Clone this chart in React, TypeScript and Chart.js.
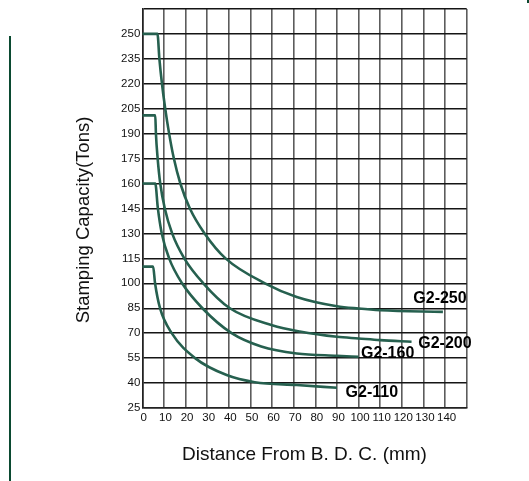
import React, { useEffect, useRef } from "react";
import { Chart, registerables } from "chart.js";

Chart.register(...registerables);

const seriesNames = ["G2-250", "G2-200", "G2-160", "G2-110"];

const g250X = [0, 7, 7.9, 9.1, 10.6, 12.4, 14.6, 17.6, 22, 28.8, 38.5, 56.7, 71.4, 90, 100, 110, 139];
const g250Y = [250, 250, 235, 220, 205, 190, 175, 160, 145, 130, 115, 100, 91.8, 86.2, 84.8, 83.8, 82.8];

const g200X = [0, 6, 6.3, 7.1, 8.3, 10.4, 13.8, 19.4, 28.2, 40.5, 60, 72.8, 90, 100, 110, 124.5];
const g200Y = [201, 201, 190, 175, 160, 145, 130, 115, 100, 85, 74.8, 71, 67.8, 66.8, 65.8, 64.8];

const g160X = [0, 6, 7.2, 9.0, 12.4, 18.4, 27.8, 41.3, 55, 71.4, 90, 100];
const g160Y = [160, 160, 145, 130, 115, 100, 85, 70, 62, 57.8, 56.4, 55.8];

const g110X = [0, 5, 5.9, 8.2, 13.6, 24.4, 39, 52, 71.4, 90];
const g110Y = [110, 110, 100, 85, 70, 55, 44.8, 40.5, 38.8, 37.2];

// label anchors (left edge x, middle y) in data units
const labelX = [125.3, 127.6, 101.1, 94.0];
const labelY = [91, 63.6, 57.6, 34.4];

const xMin = 0;
const xMax = 150;
const xStep = 10;
const yMin = 25;
const yMax = 265;
const yStep = 15;

const xTitle = "Distance From B. D. C. (mm)";
const yTitle = "Stamping Capacity(Tons)";

const FONT = "'Liberation Sans', Arial, Helvetica, sans-serif";
const CURVE = "#26604f";

function toPoints(xs: number[], ys: number[]) {
  return xs.map((x, i) => ({ x, y: ys[i] }));
}

const extraText = {
  id: "extraText",
  afterDatasetsDraw(chart: any) {
    const { ctx, scales } = chart;
    ctx.save();
    ctx.font = `bold 16px ${FONT}`;
    ctx.fillStyle = "#000";
    ctx.textAlign = "left";
    ctx.textBaseline = "middle";
    seriesNames.forEach((name, i) => {
      const px = scales.x.getPixelForValue(labelX[i]);
      const py = scales.y.getPixelForValue(labelY[i]);
      ctx.fillText(name, px, py);
    });
    ctx.restore();

    // y axis title
    ctx.save();
    ctx.font = `18.5px ${FONT}`;
    ctx.fillStyle = "#111";
    ctx.textAlign = "center";
    ctx.textBaseline = "middle";
    ctx.translate(84, 220);
    ctx.rotate(-Math.PI / 2);
    ctx.fillText(yTitle, 0, 0);
    ctx.restore();
  },
};

export default function App() {
  const ref = useRef<HTMLCanvasElement | null>(null);

  useEffect(() => {
    if (!ref.current) return;
    const all = [
      toPoints(g250X, g250Y),
      toPoints(g200X, g200Y),
      toPoints(g160X, g160Y),
      toPoints(g110X, g110Y),
    ];
    const chart = new Chart(ref.current, {
      type: "line",
      data: {
        datasets: all.map((pts, i) => ({
          label: seriesNames[i],
          data: pts,
          borderColor: CURVE,
          borderWidth: 2.6,
          pointRadius: 0,
          fill: false,
          cubicInterpolationMode: "monotone" as const,
        })),
      },
      options: {
        animation: false,
        responsive: false,
        devicePixelRatio: 1,
        layout: { padding: { top: 8, right: 62.3, left: 0, bottom: 0 } },
        plugins: { legend: { display: false }, tooltip: { enabled: false } },
        scales: {
          x: {
            type: "linear",
            min: xMin,
            max: xMax,
            afterFit: (s: any) => {
              s.height = 73;
            },
            ticks: {
              stepSize: xStep,
              autoSkip: false,
              padding: 3,
              labelOffset: 1.5,
              color: "#111",
              font: { size: 11.5, family: FONT },
              maxRotation: 0,
              callback: (v: any) => (Number(v) >= xMax ? "" : String(v)),
            },
            grid: { color: "#5c5c5c", lineWidth: 1.6, drawTicks: false },
            border: { color: "#222", width: 1.6 },
            title: {
              display: true,
              text: xTitle,
              color: "#111",
              font: { size: 19, family: FONT },
              padding: { top: 0, bottom: 15 },
            },
          },
          y: {
            type: "linear",
            min: yMin,
            max: yMax,
            afterFit: (s: any) => {
              s.width = 142.3;
            },
            ticks: {
              stepSize: yStep,
              autoSkip: false,
              padding: 2,
              color: "#111",
              font: { size: 11.5, family: FONT },
              callback: (v: any) => (Number(v) >= yMax ? "" : String(v)),
            },
            grid: { color: "#151515", lineWidth: 1.4, drawTicks: false },
            border: { color: "#222", width: 1.6 },
            title: { display: false, text: yTitle },
          },
        },
      },
      plugins: [extraText],
    });
    return () => chart.destroy();
  }, []);

  return (
    <div style={{ position: "fixed", left: 0, top: 0, width: 529, height: 481, background: "#fff" }}>
      <canvas ref={ref} width={529} height={481} style={{ width: 529, height: 481, display: "block" }} />
      <div style={{ position: "absolute", left: 9, top: 36, width: 2, height: 445, background: "#0b4a31" }} />
      <div style={{ position: "absolute", left: 527, top: 0, width: 2, height: 3, background: "#0b4a31" }} />
    </div>
  );
}
